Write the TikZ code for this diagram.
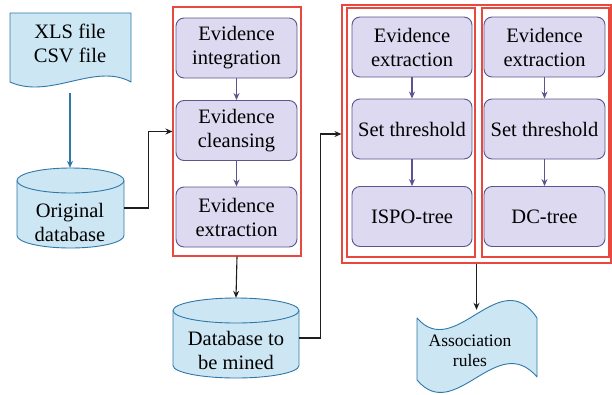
\documentclass[tikz,border=0pt]{standalone}
\usepackage{fontspec}
\setmainfont{Liberation Serif}
\newfontfamily\figfont{Liberation Serif}
\usetikzlibrary{arrows.meta}
\definecolor{boxfill}{HTML}{DCD9F0}
\definecolor{boxline}{HTML}{5A5490}
\definecolor{dbfill}{HTML}{CCE6F4}
\definecolor{dbline}{HTML}{2F78A8}
\definecolor{grpline}{HTML}{E8483E}
\definecolor{ink}{HTML}{1E1E1E}
\tikzset{
  proc/.style={draw=boxline, fill=boxfill, line width=0.9pt, rounded corners=8pt,
    minimum width=121, minimum height=60, align=center, inner sep=0pt,
    font=\figfont\fontsize{20.5}{24}\selectfont},
  grp/.style={draw=grpline, line width=1.1pt, inner sep=0pt},
  db/.style={inner sep=0pt},
  wave/.style={draw=dbline, fill=dbfill, line width=0.9pt, line join=round},
  lab/.style={align=center, inner sep=0pt, font=\figfont\fontsize{20.5}{24}\selectfont},
  flow/.style={draw=boxline, line width=1.1pt, -{Stealth[length=7pt,width=6pt]}},
  feed/.style={draw=dbline, line width=1.1pt, -{Stealth[length=7pt,width=6pt]}},
  link/.style={draw=ink, line width=1.1pt, -{Stealth[length=7pt,width=6pt]}},
}
\begin{document}
\begin{tikzpicture}[x=1pt,y=-1pt]
  \useasboundingbox (0,0) rectangle (612,394);

  % source files
  \draw[wave] (10,13) -- (131,13) -- (131,82)
    .. controls (95,62) and (50,100) .. (10,82) -- cycle;
  \node[lab, minimum height=100] (xls) at (70,43) {XLS file\\CSV file};

  \draw[wave] (17,180.5) arc[start angle=180, end angle=360, x radius=53.5, y radius=12.5]
    -- (124,235.5) arc[start angle=0, end angle=180, x radius=53.5, y radius=12.5] -- cycle;
  \draw[wave, fill=none] (17,180.5) arc[start angle=180, end angle=0, x radius=53.5, y radius=12.5];
  \node[db, minimum width=107, minimum height=80] (odb) at (70.5,208) {};
  \node[lab] (odbtext) at (70,222) {Original\\database};

  % preprocessing
  \node[proc] (integ) at (236.5,48) {Evidence\\integration};
  \node[proc] (clean) at (236.5,130.5) {Evidence\\cleansing};
  \node[proc] (extr) at (236.5,217) {Evidence\\extraction};
  \node[grp, minimum width=128, minimum height=249] (prep) at (237,131.5) {};

  \draw[wave] (173,310.5) arc[start angle=180, end angle=360, x radius=63, y radius=12.5]
    -- (299,365.5) arc[start angle=0, end angle=180, x radius=63, y radius=12.5] -- cycle;
  \draw[wave, fill=none] (173,310.5) arc[start angle=180, end angle=0, x radius=63, y radius=12.5];
  \node[db, minimum width=126, minimum height=80] (mined) at (236,338) {};
  \node[lab] (minedtext) at (236,350) {Database to\\be mined};

  % mining
  \node[proc, minimum width=120] (extrA) at (412,47) {Evidence\\extraction};
  \node[proc, minimum width=120] (threshA) at (412,129) {Set threshold};
  \node[proc, minimum width=120] (ispo) at (412,216.5) {ISPO-tree};
  \node[proc] (extrB) at (544.5,47) {Evidence\\extraction};
  \node[proc] (threshB) at (544.5,129) {Set threshold};
  \node[proc] (dc) at (544.5,216.5) {DC-tree};
  \node[grp, minimum width=128, minimum height=249] (ispogrp) at (411,132.5) {};
  \node[grp, minimum width=127, minimum height=249] (dcgrp) at (545.5,132.5) {};
  \node[grp, minimum width=269, minimum height=258] (mining) at (476.5,134) {};

  % result
  \draw[wave] (417,318) .. controls (455,362) and (500,262) .. (537,318) -- (537,377)
    .. controls (497,330) and (455,425) .. (417,380) -- cycle;
  \node[lab, minimum height=82, font=\figfont\fontsize{17.5}{20.5}\selectfont] (rules) at (470,351) {Association\\rules};

  % connectors
  \draw[feed] (xls.south) -- (xls.south |- odb.north);
  \draw[flow] (integ) -- (clean);
  \draw[flow] (clean) -- (extr);
  \draw[flow] (extrA) -- (threshA);
  \draw[flow] (threshA) -- (ispo);
  \draw[flow] (extrB) -- (threshB);
  \draw[flow] (threshB) -- (dc);
  \draw[link] (odb.east) -- ++(24,0) |- (prep.west);
  \draw[link] (prep.south) -- (mined.north);
  \draw[link] (mined.east) -- ++(21,0) |- (mining.west);
  \draw[link] (mining.south) -- (mining.south |- rules.north);
\end{tikzpicture}
\end{document}
